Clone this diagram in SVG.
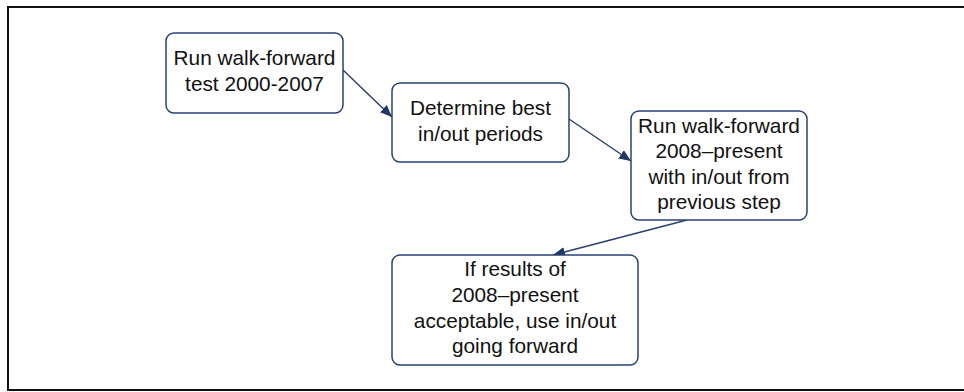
<svg xmlns="http://www.w3.org/2000/svg" width="964" height="392" viewBox="0 0 964 392">
<defs>
<style>
.box{fill:#fff;stroke:#2a4170;stroke-width:1.5}
.t{font-family:"Liberation Sans",Arial,sans-serif;font-size:20.8px;fill:#111;text-anchor:middle}
.c{stroke:#2a4170;stroke-width:1.5;fill:none;marker-end:url(#ah)}
</style>
<marker id="ah" viewBox="0 0 12 10" refX="12" refY="5" markerWidth="12" markerHeight="10" markerUnits="userSpaceOnUse" orient="auto">
<path d="M0,0 L12,5 L0,10 Z" fill="#1f3866"/>
</marker>
</defs>
<rect x="0" y="0" width="964" height="392" fill="#fff"/>
<rect x="8" y="7" width="980" height="383" fill="none" stroke="#111" stroke-width="2"/>
<g id="connectors">
<line class="c" x1="343" y1="70" x2="392" y2="117"/>
<line class="c" x1="569" y1="119" x2="631" y2="161"/>
<line class="c" x1="687" y1="220" x2="553" y2="255"/>
</g>
<g id="n1">
<rect class="box" x="166" y="33" width="177" height="80" rx="8"/>
<text class="t" x="254.5" y="65">Run walk-forward</text>
<text class="t" x="254.5" y="91">test 2000-2007</text>
</g>
<g id="n2">
<rect class="box" x="392" y="83" width="177" height="79" rx="8"/>
<text class="t" x="480.5" y="115">Determine best</text>
<text class="t" x="480.5" y="141">in/out periods</text>
</g>
<g id="n3">
<rect class="box" x="631" y="111" width="176" height="109" rx="8"/>
<text class="t" x="719" y="133">Run walk-forward</text>
<text class="t" x="719" y="158">2008–present</text>
<text class="t" x="719" y="184">with in/out from</text>
<text class="t" x="719" y="209">previous step</text>
</g>
<g id="n4">
<rect class="box" x="392" y="255" width="246" height="110" rx="8"/>
<text class="t" x="515" y="276">If results of</text>
<text class="t" x="515" y="302">2008–present</text>
<text class="t" x="515" y="328">acceptable, use in/out</text>
<text class="t" x="515" y="353">going forward</text>
</g>
</svg>
